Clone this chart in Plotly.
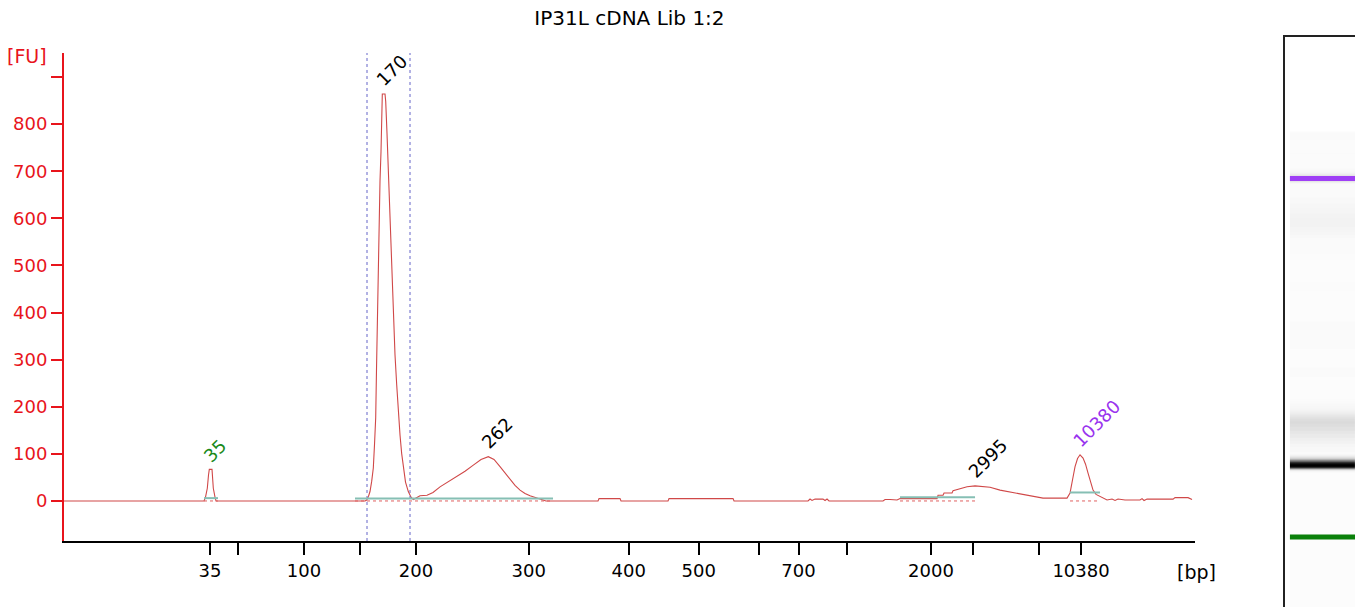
import plotly.graph_objects as go

# ---------------- data ----------------
title_text = "IP31L cDNA Lib 1:2"

# migration time (s) and fluorescence (FU)
time_s = [20.0, 34.0, 34.15, 34.33, 34.45, 34.53, 34.8, 34.88, 34.93, 35.1, 35.2,
          50.1, 50.27, 50.45, 50.6, 50.77, 50.93, 51.05, 51.17, 51.25, 51.33, 51.43,
          51.5, 51.6, 51.7, 51.77, 51.83, 52.1, 52.17, 52.3, 52.43, 52.57, 52.7,
          52.82, 52.93, 53.1, 53.27, 53.43, 53.6, 53.77, 53.93, 54.15, 54.43, 54.7,
          54.93, 55.2, 55.6, 56.3, 56.9, 57.6, 58.4, 59.27, 60.1, 60.93, 61.7, 62.43,
          63.0, 63.6, 64.1, 64.6, 65.1, 65.6, 66.1, 66.6, 67.27, 67.8, 68.2,
          73.4, 73.5, 75.6, 75.7, 80.4, 80.5, 86.9, 87.0,
          94.4, 94.6, 94.8, 95.1, 95.9, 96.1, 96.3, 96.5,
          101.9, 102.1, 102.6, 103.3, 103.6, 107.3, 107.4, 107.9, 108.0, 108.8, 108.9,
          109.6, 110.3, 111.1, 112.6, 113.6, 114.9, 116.3, 117.9, 120.3,
          120.6, 120.85, 121.1, 121.35, 121.6, 121.9, 122.15, 122.4, 122.65, 122.9,
          123.2, 123.6, 124.3, 124.8, 125.1, 125.4, 126.1, 127.6, 127.8, 128.0,
          128.3, 130.9, 131.1, 132.4, 132.8]
fu = [0, 0, 8, 27, 55, 67, 67, 50, 27, 8, 0,
      0, 2, 10, 20, 42, 70, 120, 177, 280, 390, 530,
      601, 680, 742, 800, 864, 864, 848, 780, 707, 620, 530,
      460, 390, 310, 246, 190, 140, 100, 70, 40, 20, 8,
      3, 6, 11, 12, 18, 30, 40, 52, 63, 76, 88, 94,
      88, 73, 60, 45, 33, 23, 16, 11, 6, 2, 0,
      0, 5, 5, 0, 0, 5, 5, 0,
      0, 4, 1, 4, 4, 1, 4, 0,
      0, 3, 3, 2, 5, 5, 12, 12, 17, 17, 22,
      26, 30, 32, 29, 23, 18, 13, 6, 6,
      17, 45, 73, 90, 98, 91, 78, 59, 40, 23,
      14, 9, 2, 4, 1, 4, 2, 2, 5, 1,
      4, 4, 7, 7, 3]

# x-axis ticks (migration time) and their size labels
tick_time = [34.6, 37.4, 44.0, 49.6, 55.2, 66.47, 76.47, 83.47, 89.47, 93.45,
             98.3, 106.7, 110.87, 117.5, 121.7]
tick_bp = ["35", "", "100", "", "200", "300", "400", "500", "", "700",
           "", "2000", "", "", "10380"]

fu_ticks = [0, 100, 200, 300, 400, 500, 600, 700, 800, 900]
fu_tick_text = ["0", "100", "200", "300", "400", "500", "600", "700", "800", ""]

# called peaks
peak_label = ["35", "170", "262", "2995", "10380"]
peak_time = [34.66, 51.95, 62.43, 111.1, 121.6]
peak_fu = [67, 864, 94, 32, 98]
peak_color = ["#1b8a1b", "#000000", "#000000", "#000000", "#9933ee"]

# region of interest boundaries
region_start = 50.3
region_end = 54.6

# peak integration baselines (start, end, level)
base_start = [34.0, 49.1, 103.6, 120.6]
base_end = [35.4, 68.9, 111.1, 123.6]
base_level = [6, 5, 8, 18]

# markers (lower / upper) shown on the gel lane
marker_time = [34.66, 121.6]
marker_color = ["#0a800a", "#9f3ff5"]

# ---------------- figure ----------------
FONT = "DejaVu Sans"
RED_AX = "#e8141c"
TRACE = "#d04848"

fig = go.Figure()

fig.add_trace(go.Scatter(x=time_s, y=fu, mode="lines",
                         line=dict(color=TRACE, width=1.1),
                         hoverinfo="skip", showlegend=False,
                         xaxis="x", yaxis="y"))

# gel lane (same data, intensity as grey level)
fig.add_trace(go.Heatmap(x=[0.07, 1.0], y=time_s, z=[[v] for v in fu],
                         zmin=0, zmax=864, showscale=False,
                         colorscale=[[0, "#fcfcfc"], [0.01, "#f9f9f9"], [0.04, "#f1f1f1"],
                                     [0.11, "#dadada"], [0.3, "#8c8c8c"],
                                     [0.6, "#2c2c2c"], [1, "#000000"]],
                         hoverinfo="skip", xaxis="x2", yaxis="y2"))
for mt, mc in zip(marker_time, marker_color):
    fig.add_trace(go.Scatter(x=[0.07, 1.0], y=[mt, mt], mode="lines",
                             line=dict(color=mc, width=5),
                             hoverinfo="skip", showlegend=False,
                             xaxis="x2", yaxis="y2"))

shapes = []
for xs in (region_start, region_end):
    shapes.append(dict(type="line", xref="x", yref="y domain", x0=xs, x1=xs, y0=0, y1=1,
                       line=dict(color="#6464c8", width=1, dash="dot")))
for s, e, lv in zip(base_start, base_end, base_level):
    shapes.append(dict(type="line", xref="x", yref="y", x0=s, x1=e, y0=lv, y1=lv,
                       line=dict(color="#86bfb4", width=2)))
    shapes.append(dict(type="line", xref="x", yref="y", x0=s, x1=e, y0=0, y1=0,
                       line=dict(color="#e06060", width=1, dash="dot")))

annotations = []
for lab, t, v, c in zip(peak_label, peak_time, peak_fu, peak_color):
    annotations.append(dict(x=t, y=v, xref="x", yref="y", text=lab, showarrow=False,
                            textangle=-45, xanchor="left", yanchor="bottom",
                            xshift=-14, yshift=1,
                            font=dict(family=FONT, size=18, color=c)))
annotations.append(dict(x=-0.0287, y=0.9667, xref="paper", yref="paper", text="[FU]",
                        showarrow=False, xanchor="center", yanchor="middle",
                        font=dict(family=FONT, size=19, color=RED_AX)))
annotations.append(dict(x=0.8776, y=0.0614, xref="paper", yref="paper", text="[bp]",
                        showarrow=False, xanchor="center", yanchor="middle",
                        font=dict(family=FONT, size=19, color="#000000")))

fig.update_layout(
    width=1355, height=607,
    margin=dict(l=64, r=0, t=37, b=0),
    paper_bgcolor="white", plot_bgcolor="white",
    title=dict(text=title_text, x=0.438, xref="paper", y=0.970, yref="container",
               xanchor="center", yanchor="middle",
               font=dict(family=FONT, size=20, color="#000000")),
    xaxis=dict(domain=[0, 0.8761], range=[20, 133.1],
               tickmode="array", tickvals=tick_time, ticktext=tick_bp,
               showgrid=False, zeroline=False, showline=True,
               linecolor="#000000", linewidth=2,
               ticks="outside", ticklen=12, tickwidth=2, tickcolor="#000000",
               tickfont=dict(family=FONT, size=18, color="#000000"),
               anchor="y"),
    yaxis=dict(domain=[0.1158, 0.9719], range=[-85, 951],
               tickmode="array", tickvals=fu_ticks, ticktext=fu_tick_text,
               showgrid=False, zeroline=False, showline=True,
               linecolor=RED_AX, linewidth=2,
               ticks="outside", ticklen=11, tickwidth=2, tickcolor=RED_AX,
               tickfont=dict(family=FONT, size=18, color=RED_AX),
               anchor="x"),
    xaxis2=dict(domain=[0.9458, 1.0], range=[0, 1], showticklabels=False,
                showgrid=False, zeroline=False, showline=True, side="top",
                linecolor="#222222", linewidth=2, ticks="", anchor="y2"),
    yaxis2=dict(domain=[0, 1], range=[17.67, 155.95], showticklabels=False,
                showgrid=False, zeroline=False, showline=True,
                linecolor="#222222", linewidth=2, ticks="", anchor="x2"),
    shapes=shapes,
    annotations=annotations,
)

fig.write_html("out.html", config={"displayModeBar": False},
               post_script="document.body.style.margin='0';")
